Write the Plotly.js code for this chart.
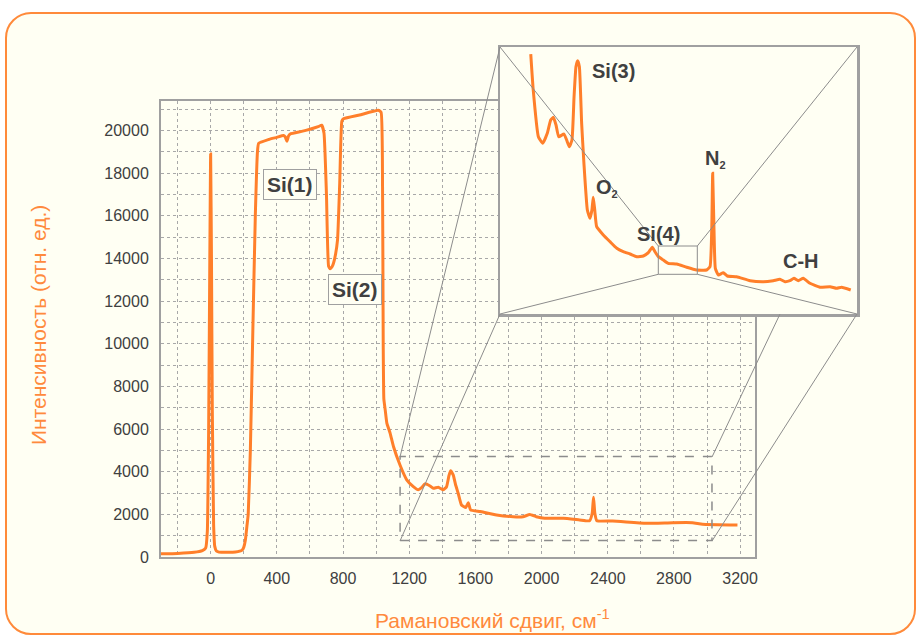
<!DOCTYPE html>
<html>
<head>
<meta charset="utf-8">
<script src="https://cdn.plot.ly/plotly-3.0.1.min.js"></script>
<style>
  html, body { margin: 0; padding: 0; background: #ffffff; }
  #card { position: absolute; left: 5px; top: 12px; width: 911px; height: 623px;
          box-sizing: border-box; border: 2px solid #FF8A3A; border-radius: 26px; background: #FFFFF3; }
  #chart { position: absolute; left: 0; top: 0; width: 917px; height: 635px; }
</style>
</head>
<body>
<div id="card"></div>
<div id="chart"></div>
<script>
// ---- main spectrum (Raman shift, cm^-1 / intensity, rel. units)
const shiftMain = [-300, -200, -100, -50, -30, -20, -12, -5, 0, 5, 10, 18, 25, 35, 50, 100, 150, 190, 200, 210, 220, 227, 240, 255, 270, 283, 290, 350, 400, 441, 451, 461, 471, 481, 550, 600, 650, 671, 685, 700, 713, 723, 733, 743, 755, 767, 780, 793, 803, 900, 1013, 1030, 1038, 1043, 1047, 1055, 1065, 1085, 1105, 1145, 1185, 1225, 1255, 1275, 1295, 1326, 1346, 1376, 1406, 1426, 1440, 1450, 1466, 1480, 1496, 1516, 1542, 1557, 1571, 1628, 1728, 1828, 1888, 1929, 1968, 2019, 2130, 2230, 2290, 2306, 2314, 2322, 2334, 2430, 2631, 2792, 2912, 2973, 3184];
const intensityMain = [150, 170, 220, 300, 420, 1200, 6000, 14000, 18900, 14000, 7000, 1500, 500, 280, 230, 220, 230, 320, 450, 800, 1500, 2000, 5000, 10600, 16000, 19000, 19400, 19580, 19680, 19770, 19700, 19500, 19750, 19840, 19960, 20060, 20180, 20250, 19890, 17000, 13630, 13520, 13600, 13790, 14200, 14880, 17500, 20440, 20550, 20730, 20950, 20860, 18800, 10000, 7400, 6900, 6280, 5800, 5180, 4300, 3620, 3300, 3150, 3250, 3430, 3330, 3220, 3270, 3150, 3300, 3800, 4050, 3850, 3400, 2990, 2440, 2320, 2550, 2210, 2130, 1970, 1890, 1890, 1990, 1890, 1815, 1815, 1740, 1700, 2050, 2800, 2050, 1700, 1690, 1580, 1610, 1610, 1535, 1500];

// ---- inset (enlarged view of the 1150-3030 cm^-1 region)
const shiftInset = [1312, 1325, 1352, 1375, 1399, 1417, 1431, 1445, 1459, 1487, 1501, 1515, 1529, 1540, 1550, 1559, 1568, 1580, 1592, 1610, 1624, 1634, 1641, 1649, 1659, 1694, 1729, 1765, 1799, 1835, 1870, 1905, 1931, 1952, 1966, 1984, 2010, 2036, 2081, 2133, 2186, 2238, 2256, 2265, 2270, 2277, 2284, 2300, 2326, 2347, 2396, 2467, 2537, 2589, 2624, 2651, 2677, 2698, 2721, 2747, 2782, 2835, 2888, 2923, 2949, 2997];
const intensityInset = [4596, 4064, 3373, 3275, 3423, 3620, 3660, 3546, 3373, 3412, 3324, 3225, 3324, 3965, 4409, 4497, 4409, 3571, 2979, 2289, 2166, 2289, 2476, 2289, 2042, 1919, 1820, 1722, 1672, 1638, 1598, 1608, 1657, 1737, 1672, 1598, 1549, 1500, 1490, 1441, 1401, 1401, 1450, 1993, 2832, 1993, 1426, 1327, 1361, 1312, 1302, 1243, 1228, 1243, 1263, 1228, 1243, 1278, 1243, 1278, 1204, 1145, 1154, 1130, 1145, 1105];

// tick labels
const xTickVals = [0, 400, 800, 1200, 1600, 2000, 2400, 2800, 3200];
const yTickVals = [0, 2000, 4000, 6000, 8000, 10000, 12000, 14000, 16000, 18000, 20000];

// zoom region (dashed frame) and inset ranges
const zoomX = [1145, 3030];
const zoomY = [770, 4710];
const insetX = [1150, 3030];
const insetY = [750, 4700];

// peak labels
const mainLabels = [
  {text: 'Si(1)', x: 479, y: 17450},
  {text: 'Si(2)', x: 872, y: 12560}
];
const SUB2 = '<sub><span style="font-size:11px">2</span></sub>';
const insetLabels = [
  {text: 'Si(3)', x: 1748, y: 4345},
  {text: 'O' + SUB2, x: 1713, y: 2614},
  {text: 'Si(4)', x: 1987, y: 1934},
  {text: 'N' + SUB2, x: 2287, y: 3043},
  {text: 'C-H', x: 2735, y: 1534}
];

const W = 917, H = 635;
const px = v => v / W;            // pixel -> paper x
const py = v => 1 - v / H;        // pixel -> paper y

const ORANGE = '#FF7F2A';
const TITLE_ORANGE = '#FF8A3D';
const GRID = '#A8A8A8';
const FRAME = '#A0A0A0';
const TXT = '#404040';
const FONT = 'Liberation Sans, Arial, sans-serif';

const traces = [
  {x: shiftMain, y: intensityMain, type: 'scatter', mode: 'lines',
   line: {color: ORANGE, width: 3, shape: 'spline', smoothing: 0.4},
   xaxis: 'x', yaxis: 'y', hoverinfo: 'skip'},
  {x: shiftInset, y: intensityInset, type: 'scatter', mode: 'lines',
   line: {color: ORANGE, width: 3, shape: 'spline', smoothing: 0.4},
   xaxis: 'x2', yaxis: 'y2', hoverinfo: 'skip'}
];

const annotations = [];
mainLabels.forEach(l => annotations.push({
  text: l.text, x: l.x, y: l.y, xref: 'x', yref: 'y', showarrow: false,
  font: {family: FONT, size: 21, color: TXT, weight: 'bold'},
  bgcolor: '#FFFFF3', bordercolor: '#A0A0A0', borderwidth: 1, borderpad: 3
}));
insetLabels.forEach(l => annotations.push({
  text: l.text, x: l.x, y: l.y, xref: 'x2', yref: 'y2', showarrow: false,
  font: {family: FONT, size: 20, color: TXT, weight: 'bold'}
}));
annotations.push({
  text: 'Рамановский сдвиг, см<sup>-1</sup>', x: px(373), y: py(619), xref: 'paper', yref: 'paper',
  xanchor: 'left', yanchor: 'middle', showarrow: false,
  font: {family: FONT, size: 21, color: TITLE_ORANGE}
});
annotations.push({
  text: 'Интенсивность (отн. ед.)', x: px(38), y: py(325), xref: 'paper', yref: 'paper',
  xanchor: 'center', yanchor: 'middle', showarrow: false, textangle: -90,
  font: {family: FONT, size: 21, color: TITLE_ORANGE}
});

const lineStyle = {color: '#8C8C8C', width: 1};
const shapes = [
  // dashed frame around enlarged region
  {type: 'rect', xref: 'x', yref: 'y', x0: zoomX[0], x1: zoomX[1], y0: zoomY[0], y1: zoomY[1],
   line: {color: '#8C8C8C', width: 1.5, dash: 'dash'}, layer: 'above'},
  // connectors from dashed frame to inset
  {type: 'line', xref: 'paper', yref: 'paper', x0: px(400), y0: py(457), x1: px(500), y1: py(47), line: lineStyle},
  {type: 'line', xref: 'paper', yref: 'paper', x0: px(400), y0: py(541), x1: px(500), y1: py(314), line: lineStyle},
  {type: 'line', xref: 'paper', yref: 'paper', x0: px(712), y0: py(541), x1: px(857), y1: py(314), line: lineStyle},
  {type: 'line', xref: 'paper', yref: 'paper', x0: px(712), y0: py(457), x1: px(780), y1: py(314), line: lineStyle},
  // perspective "tunnel" inside inset
  {type: 'rect', xref: 'paper', yref: 'paper', x0: px(658.3), x1: px(697.3), y0: py(274.3), y1: py(246), line: lineStyle, layer: 'above'},
  {type: 'line', xref: 'paper', yref: 'paper', x0: px(500), y0: py(47), x1: px(658.3), y1: py(246), line: lineStyle, layer: 'above'},
  {type: 'line', xref: 'paper', yref: 'paper', x0: px(857), y0: py(47), x1: px(697.3), y1: py(246), line: lineStyle, layer: 'above'},
  {type: 'line', xref: 'paper', yref: 'paper', x0: px(500), y0: py(314), x1: px(658.3), y1: py(274.3), line: lineStyle, layer: 'above'},
  {type: 'line', xref: 'paper', yref: 'paper', x0: px(857), y0: py(314), x1: px(697.3), y1: py(274.3), line: lineStyle, layer: 'above'}
];

const layout = {
  width: W, height: H,
  margin: {l: 0, r: 0, t: 0, b: 0},
  paper_bgcolor: 'rgba(0,0,0,0)',
  plot_bgcolor: '#FFFFF3',
  showlegend: false,
  font: {family: FONT, color: TXT},
  xaxis: {
    domain: [px(161), px(755)], range: [-300, 3290], anchor: 'y',
    tickvals: xTickVals, ticktext: xTickVals.map(String), ticks: '',
    tickfont: {family: FONT, size: 16, color: TXT}, ticklabelstandoff: 6,
    showgrid: true, gridcolor: GRID, griddash: 'dot', gridwidth: 1,
    minor: {dtick: 200, tick0: 0, showgrid: true, gridcolor: GRID, griddash: 'dot', gridwidth: 1, ticks: ''},
    showline: true, mirror: true, linecolor: FRAME, linewidth: 2, zeroline: false
  },
  yaxis: {
    domain: [1 - 557 / H, 1 - 100.7 / H], range: [0, 21400], anchor: 'x',
    tickvals: yTickVals, ticktext: yTickVals.map(String), ticks: '',
    tickfont: {family: FONT, size: 16, color: TXT}, ticklabelstandoff: 7,
    showgrid: true, gridcolor: GRID, griddash: 'dot', gridwidth: 1,
    minor: {dtick: 1000, tick0: 0, showgrid: true, gridcolor: GRID, griddash: 'dot', gridwidth: 1, ticks: ''},
    showline: true, mirror: true, linecolor: FRAME, linewidth: 2, zeroline: false
  },
  xaxis2: {
    domain: [px(500), px(857)], range: insetX, anchor: 'y2',
    showgrid: false, zeroline: false, showticklabels: false, ticks: '',
    showline: true, mirror: true, linecolor: FRAME, linewidth: 2.5
  },
  yaxis2: {
    domain: [1 - 314 / H, 1 - 47 / H], range: insetY, anchor: 'x2',
    showgrid: false, zeroline: false, showticklabels: false, ticks: '',
    showline: true, mirror: true, linecolor: FRAME, linewidth: 2.5
  },
  annotations: annotations,
  shapes: shapes
};

Plotly.newPlot('chart', traces, layout, {displayModeBar: false, staticPlot: true});
</script>
</body>
</html>
